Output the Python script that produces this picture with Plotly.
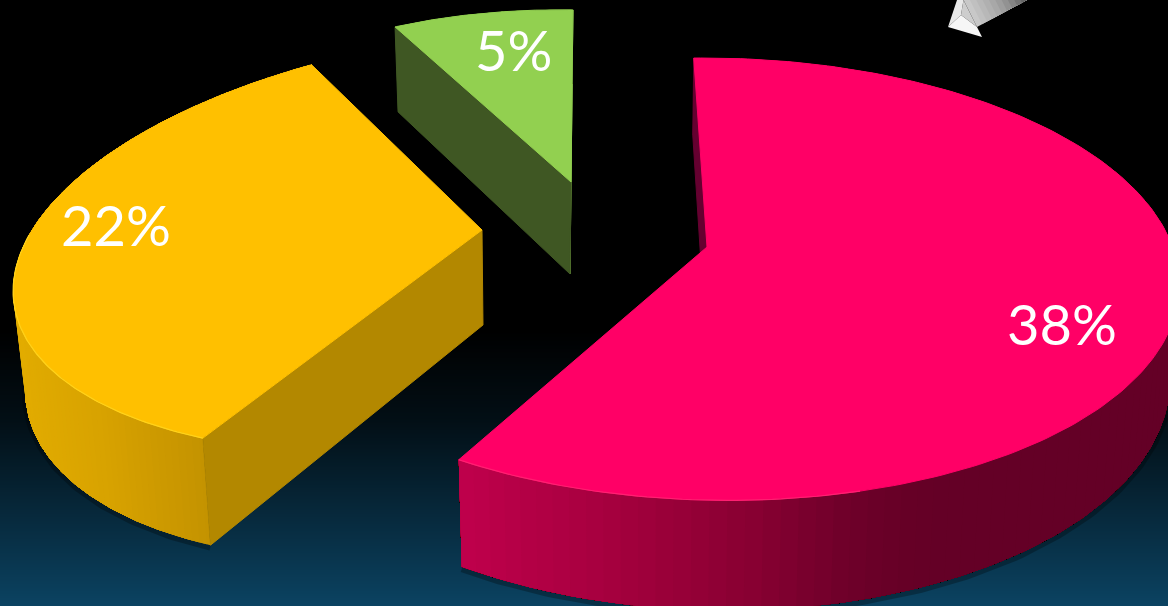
import numpy as np
import plotly.graph_objects as go

# Slice data, clockwise from the start angle
slice_names = ["A", "B", "C"]
slice_values = [38, 22, 5]
top_colors = ["#FF0066", "#FFC000", "#92D050"]
rim_colors = ["#FF2072", "#FFD21A", "#92D050"]
start_face_colors = ["#650030", "#B38800", "#3F5723"]
end_face_colors = [None, None, "#7FB347"]

START_DEG = 91.9
WIDTH, HEIGHT = 1168, 606
WALL_STRIPS = 110

# Per-slice perspective: centre, axis scales, shear and foreshortening
projection = [
    dict(cx=707, cy=247, a=458, s=0, b=216.4, t=-5, p=0.145, q=-0.02),
    dict(cx=482, cy=230, a=452, s=54, b=210.4, t=24.5, p=0.0515, q=0.022),
    dict(cx=571, cy=182, a=382, s=14.6, b=171.8, t=-11.6, p=0, q=0),
]
# Extrusion of the disk: shift = A + B*coordinate
extrusion = [
    dict(ax=3 + 0.017 * 460, bx=-0.017, ay=107 - 0.0746 * 460, by=0.0746),
    dict(ax=12 + 0.0235 * 13, bx=-0.0235, ay=95 - 0.058 * 230, by=0.058),
    dict(ax=3 + 0.0227 * 395, bx=-0.0227, ay=85 - 0.045 * 27, by=0.045),
]
# Side-wall shading stops: (x, (r, g, b))
wall_shading = [
    [(460, (192, 0, 76)), (640, (160, 0, 60)), (760, (135, 0, 50)),
     (840, (113, 0, 43)), (900, (103, 0, 39)), (960, (100, 0, 38)), (1168, (100, 0, 38))],
    [(15, (226, 172, 0)), (100, (216, 163, 0)), (205, (196, 147, 0))],
    [(0, (63, 87, 35)), (1168, (63, 87, 35))],
]
label_positions = [(1062, 323), (116, 224), (513, 49)]

# Vertical background ramp
bg_y = [0, 330, 420, 500, 560, 606]
bg_level = [0, 0, 0.22, 0.55, 0.8, 1]
bg_colorscale = [[0, "#000000"], [1, "#0B4362"]]

# Silver arrow fragment in the upper right: head facets and shaft shading
arrow_head = [
    ("#E8E8E8", "M 948 27 L 957 0 L 963.5 0 L 961 15 Z"),
    ("#F6F6F6", "M 948 27 L 961 15 L 977 27 L 982 37 Z"),
]
shaft_greys = [200, 192, 184, 176, 168, 158, 146, 132, 116, 100]
shaft_inner = (961, 15)


def project(cfg, theta):
    u, v = np.cos(theta), np.sin(theta)
    w = 1 + cfg["p"] * v + cfg["q"] * u
    return cfg["cx"] + (cfg["a"] * u + cfg["s"] * v) / w, cfg["cy"] - (cfg["b"] * v + cfg["t"] * u) / w


def extrude(ext, x, y):
    return x + ext["ax"] + ext["bx"] * x, y + ext["ay"] + ext["by"] * y


def polygon(xs, ys, color, stroke=1):
    xs, ys = list(xs), list(ys)
    return go.Scatter(x=xs + xs[:1], y=ys + ys[:1], mode="lines", fill="toself", fillcolor=color,
                      line=dict(color=color, width=stroke), hoverinfo="skip", showlegend=False)


def shade(stops, x):
    xp = [s[0] for s in stops]
    return "rgb(%d,%d,%d)" % tuple(np.interp(x, xp, [s[1][i] for s in stops]) for i in range(3))


fig = go.Figure()
fig.add_trace(go.Heatmap(x=[0, WIDTH], y=bg_y, z=[[lv, lv] for lv in bg_level], zsmooth="best",
                         zmin=0, zmax=1, colorscale=bg_colorscale, showscale=False, hoverinfo="skip"))

total = sum(slice_values)
angle = np.radians(START_DEG)
for i, value in enumerate(slice_values):
    sweep = np.radians(value / total * 360)
    theta = np.linspace(angle, angle - sweep, 220)
    cfg, ext = projection[i], extrusion[i]
    ax, ay = project(cfg, theta)
    bx, by = extrude(ext, ax, ay)
    cx, cy = cfg["cx"], cfg["cy"]
    bcx, bcy = extrude(ext, cx, cy)

    # soft contact shadow along the lower rim
    if i < 2:
        fig.add_trace(go.Scatter(x=bx, y=by + 2, mode="lines", hoverinfo="skip", showlegend=False,
                                 line=dict(color="rgba(0,0,0,0.28)", width=7)))
    # far radial face, only where it can be seen
    if end_face_colors[i]:
        fig.add_trace(polygon([ax[-1], cx, bcx, bx[-1]], [ay[-1], cy, bcy, by[-1]], end_face_colors[i]))
    # curved outer wall: each colour band is painted through to the arc end so no seams open up
    edges = np.linspace(0, len(theta) - 1, WALL_STRIPS + 1).astype(int)
    for k0, k1 in zip(edges[:-1], edges[1:]):
        seg = np.arange(k0, len(theta))
        fig.add_trace(polygon(np.r_[ax[seg], bx[seg][::-1]], np.r_[ay[seg], by[seg][::-1]],
                              shade(wall_shading[i], ax[k0:k1 + 1].mean()), stroke=0))
    # near radial face
    fig.add_trace(polygon([ax[0], cx, bcx, bx[0]], [ay[0], cy, bcy, by[0]], start_face_colors[i]))
    # top surface
    fig.add_trace(polygon(np.r_[cx, ax], np.r_[cy, ay], top_colors[i]))
    # thin highlight on the front of the rim
    front = (np.sin(theta) < 0.1) & (np.cos(theta) < 0.3)
    fig.add_trace(go.Scatter(x=ax[front], y=ay[front], mode="lines", hoverinfo="skip", showlegend=False,
                             line=dict(color=rim_colors[i], width=1.2)))
    angle -= sweep

annotations = [
    dict(x=pos[0], y=pos[1], text=f"{val}%", showarrow=False, xanchor="center", yanchor="middle",
         font=dict(family="Lato", size=56, color="#FFFFFF"))
    for val, pos in zip(slice_values, label_positions)
]

# Arrow shaft bands run along its lower edge and are cut off by the top of the frame;
# each band continues to the far end so neighbouring bands leave no gaps
shapes = []
for grey, t0 in zip(shaft_greys, np.linspace(0, 0.9, len(shaft_greys))):
    x0, y0 = 977 + 50 * t0, 27 - 27 * t0
    path = f"M {x0} {y0} L {x0 - y0 / 2} 0 L 1027 0 Z"
    shapes.append(dict(type="path", path=path, xref="x", yref="y",
                       fillcolor=f"rgb({grey},{grey},{grey})", line=dict(width=0), layer="above"))
shapes.append(dict(type="path", path=f"M {shaft_inner[0]} {shaft_inner[1]} L 963.5 0 L 977 27 Z", xref="x", yref="y",
                   fillcolor="rgb(205,205,205)", line=dict(width=0), layer="above"))
for c, p in arrow_head:
    shapes.append(dict(type="path", path=p, xref="x", yref="y", fillcolor=c, line=dict(width=0), layer="above"))

fig.update_layout(
    width=WIDTH, height=HEIGHT, margin=dict(l=0, r=0, t=0, b=0),
    paper_bgcolor="#000000", plot_bgcolor="#000000", showlegend=False,
    xaxis=dict(range=[0, WIDTH], visible=False, fixedrange=True),
    yaxis=dict(range=[HEIGHT, 0], visible=False, fixedrange=True),
    annotations=annotations, shapes=shapes,
)
fig.write_html("out.html", config=dict(displayModeBar=False))
